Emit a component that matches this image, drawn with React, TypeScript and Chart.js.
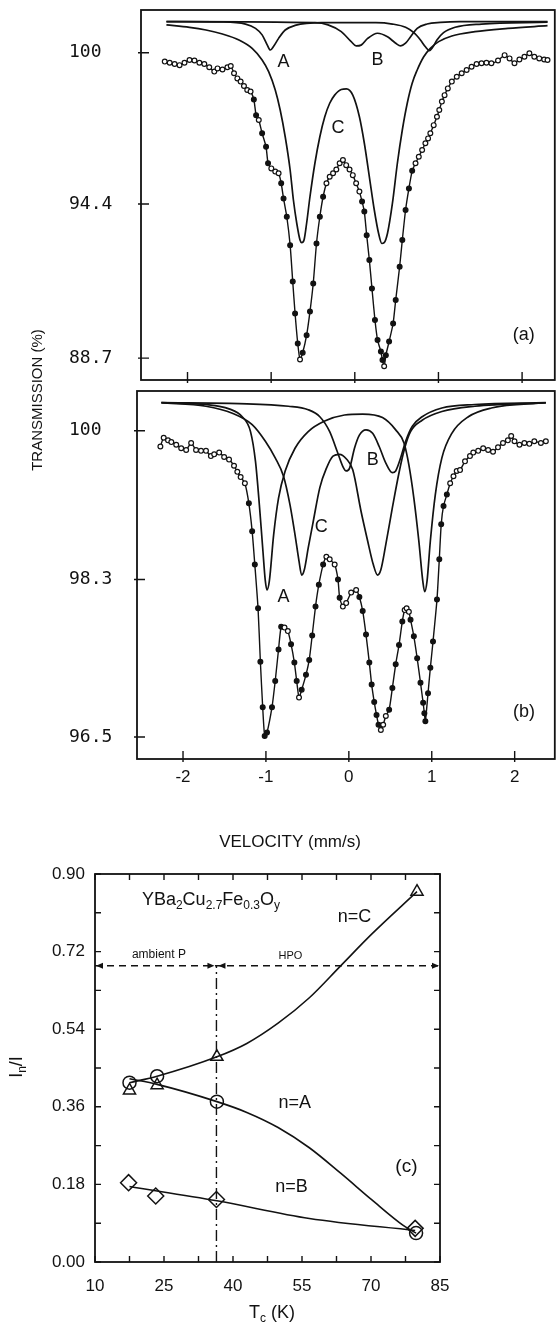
import React, { useEffect, useRef } from 'react';
import { Chart, registerables } from 'chart.js';

Chart.register(...registerables);

const SANS = '"Liberation Sans", Arial, sans-serif';
const MONO = '"DejaVu Sans Mono", monospace';
const INK = '#121212';

// ---------------- Panel (a): spectrum + fitted components ----------------
const aSpecVel = [-2.272,-2.213,-2.154,-2.095,-2.036,-1.976,-1.917,-1.858,-1.799,-1.740,-1.680,-1.641,-1.582,-1.523,-1.483,-1.444,-1.404,-1.365,-1.325,-1.286,-1.246,-1.207,-1.180,-1.148,-1.108,-1.061,-1.037,-0.998,-0.951,-0.911,-0.880,-0.852,-0.813,-0.773,-0.742,-0.714,-0.682,-0.655,-0.623,-0.576,-0.536,-0.497,-0.458,-0.418,-0.379,-0.339,-0.300,-0.260,-0.221,-0.181,-0.142,-0.103,-0.063,-0.024,0.016,0.055,0.087,0.114,0.142,0.174,0.205,0.241,0.272,0.312,0.331,0.351,0.371,0.410,0.458,0.489,0.536,0.568,0.607,0.647,0.686,0.726,0.765,0.805,0.844,0.876,0.903,0.943,0.982,1.010,1.041,1.073,1.112,1.160,1.219,1.278,1.337,1.396,1.456,1.515,1.574,1.633,1.712,1.791,1.850,1.909,1.968,2.028,2.087,2.146,2.205,2.264,2.304];
const aSpecTrans = [99.67,99.63,99.58,99.54,99.63,99.73,99.71,99.63,99.58,99.46,99.30,99.42,99.38,99.46,99.51,99.24,99.05,98.93,98.77,98.62,98.56,98.27,97.69,97.51,97.02,96.52,95.91,95.72,95.60,95.54,95.17,94.61,93.93,92.88,91.53,90.35,89.24,88.65,88.90,89.55,90.42,91.46,92.94,93.93,94.67,95.17,95.41,95.54,95.68,95.91,96.03,95.84,95.68,95.47,95.17,94.86,94.49,94.12,93.25,92.33,91.28,90.11,89.37,88.94,88.63,88.40,88.81,89.31,89.98,90.85,92.08,93.07,94.18,94.98,95.63,95.91,96.15,96.40,96.65,96.83,97.02,97.32,97.63,97.88,98.19,98.43,98.68,98.93,99.11,99.24,99.36,99.48,99.58,99.61,99.63,99.61,99.71,99.91,99.79,99.61,99.75,99.85,99.98,99.85,99.79,99.75,99.73];

const aCompAVel = [-2.252,-1.582,-1.306,-1.187,-1.108,-1.049,-1.010,-0.970,-0.911,-0.832,-0.714,-0.398,0.252,0.450,0.607,0.706,0.785,0.844,0.892,0.931,0.982,1.061,1.199,1.515,2.304];
const aCompATrans = [101.15,101.14,101.06,100.90,100.66,100.30,100.10,100.24,100.53,100.84,101.01,101.11,101.11,101.06,100.94,100.74,100.47,100.22,100.08,100.20,100.47,100.74,100.94,101.06,101.13];

const aCompBVel = [-2.252,-0.477,-0.320,-0.162,-0.043,0.016,0.075,0.154,0.272,0.391,0.489,0.548,0.607,0.667,0.746,0.864,1.022,1.258,2.304];
const aCompBTrans = [101.15,101.11,101.03,100.78,100.41,100.25,100.28,100.53,100.72,100.59,100.35,100.25,100.35,100.59,100.90,101.06,101.12,101.15,101.15];

const aCompCVel = [-2.252,-1.976,-1.779,-1.582,-1.385,-1.227,-1.108,-1.030,-0.951,-0.892,-0.832,-0.773,-0.734,-0.694,-0.655,-0.635,-0.607,-0.576,-0.536,-0.477,-0.418,-0.359,-0.300,-0.241,-0.162,-0.100,-0.024,0.055,0.114,0.174,0.233,0.284,0.323,0.351,0.391,0.450,0.509,0.568,0.627,0.686,0.746,0.824,0.903,1.002,1.160,1.436,1.830,2.304];
const aCompCTrans = [101.03,100.94,100.84,100.69,100.47,100.16,99.73,99.30,98.62,97.88,96.89,95.66,94.55,93.69,93.07,92.97,93.07,93.69,94.67,95.91,96.89,97.63,98.13,98.43,98.64,98.66,98.43,97.63,96.65,95.41,94.18,93.32,92.94,92.97,93.32,94.43,95.91,97.14,98.13,98.87,99.36,99.85,100.16,100.41,100.62,100.78,100.90,101.00];

// ---------------- Panel (b) ----------------
const bSpecVel = [-2.273,-2.233,-2.181,-2.141,-2.082,-2.022,-1.962,-1.902,-1.843,-1.783,-1.723,-1.664,-1.624,-1.564,-1.504,-1.445,-1.385,-1.345,-1.305,-1.254,-1.206,-1.166,-1.134,-1.095,-1.067,-1.039,-1.015,-0.987,-0.927,-0.888,-0.848,-0.816,-0.776,-0.736,-0.697,-0.657,-0.629,-0.601,-0.569,-0.517,-0.478,-0.442,-0.402,-0.362,-0.310,-0.271,-0.231,-0.171,-0.131,-0.111,-0.072,-0.032,0.028,0.088,0.127,0.167,0.207,0.247,0.275,0.306,0.334,0.358,0.386,0.414,0.446,0.486,0.525,0.565,0.605,0.645,0.673,0.697,0.724,0.744,0.784,0.824,0.864,0.896,0.911,0.923,0.955,0.983,1.015,1.063,1.091,1.114,1.142,1.182,1.222,1.262,1.301,1.341,1.401,1.461,1.501,1.560,1.620,1.680,1.739,1.799,1.859,1.918,1.958,1.998,2.058,2.117,2.177,2.237,2.316,2.376];
const bSpecTrans = [99.82,99.92,99.89,99.87,99.84,99.80,99.78,99.86,99.78,99.77,99.77,99.71,99.73,99.75,99.70,99.67,99.60,99.53,99.47,99.40,99.17,98.85,98.47,97.97,97.36,96.84,96.51,96.55,96.84,97.14,97.50,97.76,97.75,97.71,97.56,97.35,97.14,96.95,97.04,97.21,97.38,97.66,97.99,98.24,98.47,98.56,98.53,98.47,98.30,98.09,97.99,98.03,98.15,98.18,98.10,97.94,97.67,97.35,97.10,96.90,96.75,96.64,96.58,96.64,96.74,96.81,97.06,97.33,97.55,97.82,97.95,97.97,97.93,97.84,97.65,97.40,97.12,96.89,96.77,96.68,97.00,97.29,97.59,98.07,98.53,98.93,99.14,99.27,99.40,99.48,99.54,99.55,99.65,99.71,99.75,99.77,99.80,99.78,99.76,99.81,99.86,99.89,99.94,99.88,99.84,99.86,99.85,99.88,99.86,99.88];

const bCompAVel = [-2.261,-1.723,-1.445,-1.286,-1.186,-1.126,-1.079,-1.039,-1.007,-0.987,-0.959,-0.907,-0.848,-0.768,-0.649,-0.490,-0.291,-0.052,0.167,0.406,0.565,0.665,0.724,0.784,0.844,0.892,0.915,0.943,0.983,1.043,1.122,1.242,1.441,1.719,2.376];
const bCompATrans = [100.32,100.30,100.25,100.16,99.99,99.65,99.15,98.66,98.28,98.18,98.28,98.81,99.23,99.54,99.80,99.99,100.11,100.18,100.19,100.15,100.01,99.86,99.61,99.23,98.74,98.28,98.16,98.28,98.74,99.27,99.69,99.97,100.16,100.26,100.32];

const bCompBVel = [-2.261,-1.325,-0.728,-0.490,-0.350,-0.231,-0.139,-0.072,-0.032,0.008,0.068,0.127,0.207,0.287,0.366,0.446,0.525,0.565,0.625,0.685,0.764,0.884,1.122,1.520,2.376];
const bCompBTrans = [100.32,100.31,100.28,100.24,100.16,99.99,99.76,99.59,99.54,99.57,99.80,99.95,100.01,99.97,99.82,99.63,99.52,99.54,99.69,99.88,100.05,100.16,100.26,100.30,100.32];

const bCompCVel = [-2.261,-1.723,-1.405,-1.166,-1.007,-0.888,-0.788,-0.709,-0.649,-0.601,-0.569,-0.537,-0.490,-0.430,-0.350,-0.271,-0.191,-0.112,-0.032,0.048,0.147,0.227,0.295,0.346,0.386,0.446,0.525,0.605,0.673,0.744,0.884,1.122,1.520,2.376];
const bCompCTrans = [100.32,100.28,100.20,100.07,99.88,99.69,99.48,99.15,98.81,98.51,98.35,98.41,98.66,98.96,99.35,99.57,99.71,99.73,99.68,99.55,99.08,98.74,98.47,98.35,98.41,98.70,99.12,99.52,99.80,99.99,100.12,100.22,100.28,100.32];

// ---------------- Axis ticks (a, b) ----------------
const velTicks = [-2, -1, 0, 1, 2];
const aTransTicks = [88.7, 94.4, 100];
const bTransTicks = [96.5, 98.3, 100];

// ---------------- Panel (c) ----------------
const tcC = [17.5, 23.5, 36.5, 80.0];
const fracC = [0.398, 0.410, 0.476, 0.859];
const tcA = [17.5, 23.5, 36.5, 79.8];
const fracA = [0.416, 0.431, 0.372, 0.067];
const tcB = [17.3, 23.2, 36.4, 79.6];
const fracB = [0.184, 0.153, 0.145, 0.078];

const fitCTc = [17.5, 23.5, 36.5, 43.0, 49.8, 56.6, 63.4, 70.2, 80.0];
const fitCFrac = [0.416, 0.431, 0.476, 0.507, 0.554, 0.613, 0.687, 0.761, 0.859];
const fitATc = [17.5, 23.5, 36.5, 43.0, 49.8, 56.6, 63.4, 70.2, 77.0, 79.8];
const fitAFrac = [0.425, 0.412, 0.372, 0.347, 0.312, 0.265, 0.206, 0.144, 0.085, 0.067];
const fitBTc = [17.5, 36.5, 56.6, 79.6];
const fitBFrac = [0.175, 0.142, 0.101, 0.073];

const boundaryTc = 36.4;
const boundaryFrac = 0.687;
const tcRange = [10, 85];
const fracRange = [0, 0.9];
const tcLabelTicks = [10, 25, 40, 55, 70, 85];
const tcMinorTicks = [10, 17.5, 25, 32.5, 40, 47.5, 55, 62.5, 70, 77.5, 85];
const fracLabelTicks = [0, 0.18, 0.36, 0.54, 0.72, 0.9];
const fracMinorTicks = [0, 0.09, 0.18, 0.27, 0.36, 0.45, 0.54, 0.63, 0.72, 0.81, 0.9];

// ---------------- helpers ----------------
const pts = (xs: number[], ys: number[]) => xs.map((x, i) => ({ x, y: ys[i] }));

const fillRule = (c: any) => {
  const i = c.dataIndex;
  const sx = c.chart.scales?.x, sy = c.chart.scales?.y;
  if (i === undefined || !sx || !sy) return '#fff';
  const d = c.dataset.data;
  const p0 = d[Math.max(0, i - 1)], p1 = d[Math.min(d.length - 1, i + 1)];
  const dx = sx.getPixelForValue(p1.x) - sx.getPixelForValue(p0.x);
  const dy = sy.getPixelForValue(p1.y) - sy.getPixelForValue(p0.y);
  return Math.abs(dy) > 3.2 * Math.abs(dx) ? INK : '#fff';
};

const specDataset = (xs: number[], ys: number[]) => ({
  data: pts(xs, ys), showLine: true, borderColor: INK, borderWidth: 1.4, tension: 0.2,
  pointRadius: 2.4, pointBorderWidth: 1.2, pointBorderColor: INK, pointBackgroundColor: fillRule,
});
const compDataset = (xs: number[], ys: number[]) => ({
  data: pts(xs, ys), showLine: true, borderColor: INK, borderWidth: 1.7, pointRadius: 0,
  cubicInterpolationMode: 'monotone',
});

const framePlugin = {
  id: 'frame',
  afterDatasetsDraw(chart: any, _a: any, o: any) {
    const { ctx, chartArea: ca } = chart;
    const sx = chart.scales.x, sy = chart.scales.y;
    ctx.save();
    ctx.strokeStyle = INK;
    ctx.lineWidth = o.lw || 1.8;
    ctx.strokeRect(ca.left, ca.top, ca.right - ca.left, ca.bottom - ca.top);
    ctx.lineWidth = o.tw || 1.4;
    ctx.beginPath();
    const len = o.len || 7, out = o.out || 0;
    for (const v of o.xTicks || []) {
      const x = sx.getPixelForValue(v);
      if (o.bottom) { ctx.moveTo(x, ca.bottom + out); ctx.lineTo(x, ca.bottom - len); }
      if (o.top) { ctx.moveTo(x, ca.top - out); ctx.lineTo(x, ca.top + len); }
    }
    for (const v of o.yTicks || []) {
      const y = sy.getPixelForValue(v);
      if (o.left) { ctx.moveTo(ca.left - out, y); ctx.lineTo(ca.left + len, y); }
      if (o.right) { ctx.moveTo(ca.right + out, y); ctx.lineTo(ca.right - len, y); }
    }
    ctx.stroke();
    ctx.restore();
  },
};

const notesPlugin = {
  id: 'notes',
  afterDraw(chart: any, _a: any, o: any) {
    const ctx = chart.ctx;
    const sx = chart.scales.x, sy = chart.scales.y;
    for (const n of o.items || []) {
      const x = n.px ? n.x : sx.getPixelForValue(n.x);
      const y = n.px ? n.y : sy.getPixelForValue(n.y);
      ctx.save();
      ctx.translate(x, y);
      if (n.rotate) ctx.rotate(n.rotate);
      ctx.fillStyle = INK;
      ctx.textBaseline = 'middle';
      ctx.textAlign = 'left';
      const parts = n.parts || [{ t: n.text }];
      const sub = Math.round(n.size * 0.68);
      const fontFor = (p: any) => `${n.bold ? 'bold ' : ''}${p.sub ? sub : n.size}px ${n.family || SANS}`;
      const widths = parts.map((p: any) => { ctx.font = fontFor(p); return ctx.measureText(p.t).width; });
      const total = widths.reduce((s: number, w: number) => s + w, 0);
      let cx = n.align === 'left' ? 0 : n.align === 'right' ? -total : -total / 2;
      parts.forEach((p: any, i: number) => {
        ctx.font = fontFor(p);
        ctx.fillText(p.t, cx, p.sub ? n.size * 0.32 : 0);
        cx += widths[i];
      });
      ctx.restore();
    }
    ctx.save();
    ctx.fillStyle = INK;
    for (const a of o.arrows || []) {
      const x = sx.getPixelForValue(a.x) - a.dir * (a.gap || 0);
      const y = sy.getPixelForValue(a.y);
      ctx.beginPath();
      ctx.moveTo(x, y);
      ctx.lineTo(x - a.dir * 7, y - 3);
      ctx.lineTo(x - a.dir * 7, y + 3);
      ctx.closePath();
      ctx.fill();
    }
    ctx.restore();
  },
};

const fmtTrans = (v: any) => (Number(v) === 100 ? '100' : Number(v).toFixed(1));

const yAxisAB = (min: number, max: number, ticks: number[], width: number) => ({
  type: 'linear', position: 'left', min, max,
  afterBuildTicks: (s: any) => { s.ticks = ticks.map((v) => ({ value: v })); },
  afterFit: (s: any) => { s.width = width; s.paddingTop = 0; s.paddingBottom = 0; },
  grid: { display: false, drawTicks: false }, border: { display: false },
  ticks: { font: { family: MONO, size: 18 }, color: INK, crossAlign: 'far', padding: 0, callback: fmtTrans, autoSkip: false },
});

function configA(): any {
  return {
    type: 'scatter',
    data: {
      datasets: [
        compDataset(aCompAVel, aCompATrans),
        compDataset(aCompBVel, aCompBTrans),
        compDataset(aCompCVel, aCompCTrans),
        specDataset(aSpecVel, aSpecTrans),
      ],
    },
    plugins: [framePlugin, notesPlugin],
    options: {
      responsive: false, animation: false, devicePixelRatio: 1,
      layout: { padding: { left: 69, right: 1, top: 10, bottom: 100 } },
      plugins: {
        legend: { display: false }, tooltip: { enabled: false },
        frame: { xTicks: velTicks, yTicks: aTransTicks, bottom: true, left: true, len: 8, out: 3 },
        notes: {
          items: [
            { text: 'A', x: -0.852, y: 99.66, size: 18 },
            { text: 'B', x: 0.272, y: 99.73, size: 18 },
            { text: 'C', x: -0.201, y: 97.21, size: 18 },
            { text: '(a)', x: 2.02, y: 89.55, size: 18 },
            { text: 'TRANSMISSION (%)', x: 38, y: 400, px: true, rotate: -Math.PI / 2, size: 15 },
          ],
        },
      },
      scales: {
        x: { type: 'linear', display: false, min: -2.556, max: 2.391 },
        y: yAxisAB(87.89, 101.58, aTransTicks, 72),
      },
    },
  };
}

function configB(): any {
  return {
    type: 'scatter',
    data: {
      datasets: [
        compDataset(bCompAVel, bCompATrans),
        compDataset(bCompBVel, bCompBTrans),
        compDataset(bCompCVel, bCompCTrans),
        specDataset(bSpecVel, bSpecTrans),
      ],
    },
    plugins: [framePlugin, notesPlugin],
    options: {
      responsive: false, animation: false, devicePixelRatio: 1,
      layout: { padding: { left: 69, right: 1, top: 91, bottom: 0 } },
      plugins: {
        legend: { display: false }, tooltip: { enabled: false },
        frame: { xTicks: velTicks, yTicks: bTransTicks, bottom: true, left: true, len: 8, out: 3 },
        notes: {
          items: [
            { text: 'B', x: 0.287, y: 99.67, size: 18 },
            { text: 'C', x: -0.334, y: 98.90, size: 18 },
            { text: 'A', x: -0.788, y: 98.10, size: 18 },
            { text: '(b)', x: 2.113, y: 96.78, size: 18 },
            { text: 'VELOCITY (mm/s)', x: 290, y: 542, px: true, size: 17 },
          ],
        },
      },
      scales: {
        x: {
          type: 'linear', min: -2.555, max: 2.484,
          afterBuildTicks: (s: any) => { s.ticks = velTicks.map((v) => ({ value: v })); },
          afterFit: (s: any) => { s.height = 101; s.paddingLeft = 0; s.paddingRight = 0; },
          grid: { display: false, drawTicks: false }, border: { display: false },
          ticks: { font: { family: SANS, size: 17 }, color: INK, padding: 8, autoSkip: false, maxRotation: 0, callback: (v: any) => String(v) },
        },
        y: yAxisAB(96.248, 100.454, bTransTicks, 68),
      },
    },
  };
}

function configC(): any {
  const marker = (xs: number[], ys: number[], style: string, r: number) => ({
    data: pts(xs, ys), showLine: false, pointStyle: style, pointRadius: r,
    pointBorderColor: INK, pointBackgroundColor: 'rgba(0,0,0,0)', pointBorderWidth: 1.5,
  });
  const fit = (xs: number[], ys: number[]) => ({
    data: pts(xs, ys), showLine: true, borderColor: INK, borderWidth: 1.6, pointRadius: 0,
    cubicInterpolationMode: 'monotone',
  });
  return {
    type: 'scatter',
    data: {
      datasets: [
        fit(fitCTc, fitCFrac),
        fit(fitATc, fitAFrac),
        fit(fitBTc, fitBFrac),
        marker(tcC, fracC, 'triangle', 7),
        marker(tcA, fracA, 'circle', 6.5),
        marker(tcB, fracB, 'rectRot', 8),
        {
          data: pts(tcRange, [boundaryFrac, boundaryFrac]), showLine: true, borderColor: INK,
          borderWidth: 1.5, borderDash: [7, 5], pointRadius: 0,
        },
        {
          data: pts([boundaryTc, boundaryTc], [fracRange[0], boundaryFrac]), showLine: true, borderColor: INK,
          borderWidth: 1.4, borderDash: [11, 4, 2, 4], pointRadius: 0,
        },
      ],
    },
    plugins: [framePlugin, notesPlugin],
    options: {
      responsive: false, animation: false, devicePixelRatio: 1,
      layout: { padding: { left: 0, right: 120, top: 14, bottom: 0 } },
      plugins: {
        legend: { display: false }, tooltip: { enabled: false },
        frame: { xTicks: tcMinorTicks, yTicks: fracMinorTicks, bottom: true, top: true, left: true, right: true, len: 6, lw: 1.8 },
        notes: {
          items: [
            {
              parts: [{ t: 'YBa' }, { t: '2', sub: true }, { t: 'Cu' }, { t: '2.7', sub: true }, { t: 'Fe' }, { t: '0.3', sub: true }, { t: 'O' }, { t: 'y', sub: true }],
              x: 20.2, y: 0.84, size: 18, align: 'left',
            },
            { text: 'n=C', x: 66.4, y: 0.80, size: 18 },
            { text: 'ambient P', x: 23.9, y: 0.713, size: 12 },
            { text: 'HPO', x: 52.5, y: 0.709, size: 11 },
            { text: 'n=A', x: 53.4, y: 0.369, size: 18 },
            { text: 'n=B', x: 52.7, y: 0.174, size: 18 },
            { text: '(c)', x: 77.7, y: 0.22, size: 19 },
            { parts: [{ t: 'I' }, { t: 'n', sub: true }, { t: '/I' }], x: 17, y: 207, px: true, rotate: -Math.PI / 2, size: 18 },
            { parts: [{ t: 'T' }, { t: 'c', sub: true }, { t: ' (K)' }], x: 272, y: 453, px: true, size: 18 },
          ],
          arrows: [
            { x: boundaryTc, y: boundaryFrac, dir: 1, gap: 2 },
            { x: boundaryTc, y: boundaryFrac, dir: -1, gap: 2 },
            { x: tcRange[1], y: boundaryFrac, dir: 1, gap: 1 },
            { x: tcRange[0], y: boundaryFrac, dir: -1, gap: 1 },
          ],
        },
      },
      scales: {
        x: {
          type: 'linear', min: tcRange[0], max: tcRange[1],
          afterBuildTicks: (s: any) => { s.ticks = tcLabelTicks.map((v) => ({ value: v })); },
          afterFit: (s: any) => { s.height = 65; s.paddingLeft = 0; s.paddingRight = 0; },
          grid: { display: false, drawTicks: false }, border: { display: false },
          ticks: { font: { family: SANS, size: 17 }, color: INK, padding: 14, autoSkip: false, maxRotation: 0, callback: (v: any) => String(v) },
        },
        y: {
          type: 'linear', min: fracRange[0], max: fracRange[1],
          afterBuildTicks: (s: any) => { s.ticks = fracLabelTicks.map((v) => ({ value: v })); },
          afterFit: (s: any) => { s.width = 95; s.paddingTop = 0; s.paddingBottom = 0; },
          grid: { display: false, drawTicks: false }, border: { display: false },
          ticks: { font: { family: SANS, size: 17 }, color: INK, padding: 10, autoSkip: false, callback: (v: any) => Number(v).toFixed(2) },
        },
      },
    },
  };
}

export default function App() {
  const refA = useRef<HTMLCanvasElement>(null);
  const refB = useRef<HTMLCanvasElement>(null);
  const refC = useRef<HTMLCanvasElement>(null);

  useEffect(() => {
    const charts = [
      new Chart(refA.current as HTMLCanvasElement, configA()),
      new Chart(refB.current as HTMLCanvasElement, configB()),
      new Chart(refC.current as HTMLCanvasElement, configC()),
    ];
    return () => charts.forEach((c) => c.destroy());
  }, []);

  return (
    <div style={{ position: 'absolute', left: 0, top: 0, width: 560, height: 1327, background: '#fff', overflow: 'hidden' }}>
      <canvas ref={refA} width={560} height={480} style={{ position: 'absolute', left: 0, top: 0, width: 560, height: 480 }} />
      <canvas ref={refB} width={560} height={560} style={{ position: 'absolute', left: 0, top: 300, width: 560, height: 560 }} />
      <canvas ref={refC} width={560} height={467} style={{ position: 'absolute', left: 0, top: 860, width: 560, height: 467 }} />
    </div>
  );
}
